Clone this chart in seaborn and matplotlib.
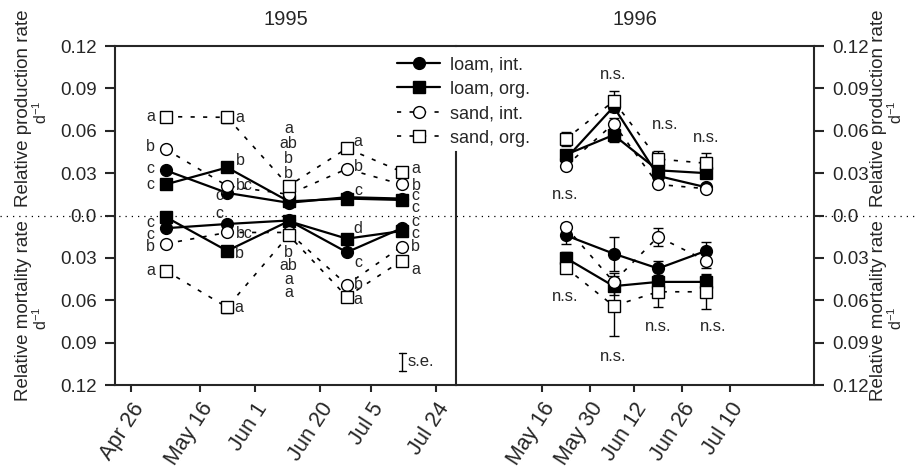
import matplotlib
matplotlib.use("Agg")
import matplotlib.pyplot as plt
import matplotlib.dates as mdates
from matplotlib.lines import Line2D
import seaborn as sns
import pandas as pd
import numpy as np

# ---- data -------------------------------------------------------------
series = ["loam, int.", "loam, org.", "sand, int.", "sand, org."]

dates_1995 = pd.to_datetime(["1995-05-06", "1995-05-24", "1995-06-11", "1995-06-28", "1995-07-14"])
dates_1996 = pd.to_datetime(["1996-05-23", "1996-06-06", "1996-06-19", "1996-07-03"])

# production rates (d-1)
prod95_loam_int = [0.032, 0.016, 0.009, 0.013, 0.012]
prod95_loam_org = [0.022, 0.034, 0.010, 0.012, 0.011]
prod95_sand_int = [0.047, 0.021, 0.015, 0.033, 0.022]
prod95_sand_org = [0.070, 0.0695, 0.021, 0.0476, 0.031]

prod96_loam_int = [0.040, 0.077, 0.028, 0.020]
prod96_loam_org = [0.043, 0.057, 0.032, 0.030]
prod96_sand_int = [0.035, 0.065, 0.022, 0.019]
prod96_sand_org = [0.054, 0.081, 0.040, 0.037]

# mortality rates (d-1), drawn downwards
mort95_loam_int = [0.009, 0.006, 0.0035, 0.026, 0.009]
mort95_loam_org = [0.001, 0.025, 0.004, 0.0164, 0.011]
mort95_sand_int = [0.020, 0.012, 0.012, 0.049, 0.022]
mort95_sand_org = [0.039, 0.065, 0.014, 0.0575, 0.032]

mort96_loam_int = [0.014, 0.027, 0.0375, 0.025]
mort96_loam_org = [0.030, 0.050, 0.047, 0.047]
mort96_sand_int = [0.008, 0.047, 0.015, 0.032]
mort96_sand_org = [0.037, 0.064, 0.054, 0.054]

# standard errors
se_prod95_sand_org = [0.002, 0.004, 0.002, 0.002, 0.002]
se_mort95_sand_org = [0.002, 0.004, 0.002, 0.002, 0.002]

se_prod96_loam_int = [0.003, 0.004, 0.003, 0.002]
se_prod96_loam_org = [0.003, 0.005, 0.003, 0.003]
se_prod96_sand_int = [0.002, 0.004, 0.002, 0.002]
se_prod96_sand_org = [0.005, 0.007, 0.006, 0.007]
se_mort96_loam_int = [0.006, 0.012, 0.005, 0.006]
se_mort96_loam_org = [0.004, 0.006, 0.005, 0.005]
se_mort96_sand_int = [0.003, 0.006, 0.0065, 0.005]
se_mort96_sand_org = [0.004, 0.021, 0.0105, 0.0125]

# significance letters 1995
let_prod95_loam_int = ["c", "c", "b", "c", "c"]
let_prod95_loam_org = ["c", "b", "b", "", "c"]
let_prod95_sand_int = ["b", "bc", "ab", "b", "b"]
let_prod95_sand_org = ["a", "a", "a", "a", "a"]
let_mort95_loam_int = ["c", "c", "b", "c", "c"]
let_mort95_loam_org = ["c", "b", "ab", "d", "c"]
let_mort95_sand_int = ["b", "bc", "a", "b", "b"]
let_mort95_sand_org = ["a", "a", "a", "a", "a"]

xticks_1995 = pd.to_datetime(["1995-04-26", "1995-05-16", "1995-06-01", "1995-06-20", "1995-07-05", "1995-07-24"])
xlabels_1995 = ["Apr 26", "May 16", "Jun 1", "Jun 20", "Jul 5", "Jul 24"]
xticks_1996 = pd.to_datetime(["1996-05-16", "1996-05-30", "1996-06-12", "1996-06-26", "1996-07-10"])
xlabels_1996 = ["May 16", "May 30", "Jun 12", "Jun 26", "Jul 10"]

yticks = [-0.12, -0.09, -0.06, -0.03, 0.0, 0.03, 0.06, 0.09, 0.12]
ylabels = ["0.12", "0.09", "0.06", "0.03", "0.0", "0.03", "0.06", "0.09", "0.12"]

# ---- styling ----------------------------------------------------------
sns.set_style("ticks")
plt.rcParams["font.family"] = ["Liberation Sans", "DejaVu Sans"]
plt.rcParams["mathtext.default"] = "regular"
plt.rcParams["axes.linewidth"] = 1.5

dash = (0, (2.5, 5))
styles = {
    "loam, int.": dict(marker="o", markerfacecolor="k", linestyle="-", linewidth=1.6),
    "loam, org.": dict(marker="s", markerfacecolor="k", linestyle="-", linewidth=1.6),
    "sand, int.": dict(marker="o", markerfacecolor="white", linestyle=dash, linewidth=1.2),
    "sand, org.": dict(marker="s", markerfacecolor="white", linestyle=dash, linewidth=1.2),
}

fig = plt.figure(figsize=(9.2, 4.72), dpi=100)
ax1 = fig.add_axes([0.125, 0.1843, 0.3707, 0.7182])
ax2 = fig.add_axes([0.4957, 0.1843, 0.3891, 0.7182])
for ax in (ax1, ax2):
    ax.set_facecolor("none")


def draw(ax, dates, values, se, name, sign):
    y = sign * np.asarray(values)
    if se is not None:
        ax.errorbar(dates, y, yerr=se, fmt="none", ecolor="k", elinewidth=1,
                    capsize=3.5, capthick=1, zorder=1)
    sns.lineplot(x=dates, y=y, ax=ax, color="k", markeredgecolor="k",
                 markersize=8.5, markeredgewidth=1, legend=False, **styles[name])


prod95 = [prod95_loam_int, prod95_loam_org, prod95_sand_int, prod95_sand_org]
mort95 = [mort95_loam_int, mort95_loam_org, mort95_sand_int, mort95_sand_org]
prod96 = [prod96_loam_int, prod96_loam_org, prod96_sand_int, prod96_sand_org]
mort96 = [mort96_loam_int, mort96_loam_org, mort96_sand_int, mort96_sand_org]
se_p95 = [None, None, None, se_prod95_sand_org]
se_m95 = [None, None, None, se_mort95_sand_org]
se_p96 = [se_prod96_loam_int, se_prod96_loam_org, se_prod96_sand_int, se_prod96_sand_org]
se_m96 = [se_mort96_loam_int, se_mort96_loam_org, se_mort96_sand_int, se_mort96_sand_org]

for i, name in enumerate(series):
    draw(ax1, dates_1995, prod95[i], se_p95[i], name, 1)
    draw(ax1, dates_1995, mort95[i], se_m95[i], name, -1)
    draw(ax2, dates_1996, prod96[i], se_p96[i], name, 1)
    draw(ax2, dates_1996, mort96[i], se_m96[i], name, -1)

# letters: offsets in pixels from the own marker (dy up); None = stacked
off_prod = [
    [(-15, 2), (-8, -3), None, (11, 7), (14, 3)],
    [(-15, 0), (13, 7), None, (11, 7), (14, -8)],
    [(-15, 3), (17, 0), None, (11, 2), (15, -1)],
    [(-15, 0), (13, 0), None, (11, 7), (14, 3)],
]
off_mort = [
    [(-15, -6), (-8, 10), None, (11, -10), (14, 7)],
    [(-15, -6), (12, -3), None, (11, 10), (14, -2)],
    [(-15, -3), (17, -1), None, (11, 0), (14, 0)],
    [(-15, 0), (12, 0), None, (11, -3), (14, -9)],
]
let_prod = [let_prod95_loam_int, let_prod95_loam_org, let_prod95_sand_int, let_prod95_sand_org]
let_mort = [let_mort95_loam_int, let_mort95_loam_org, let_mort95_sand_int, let_mort95_sand_org]

for k in range(4):
    for j, d in enumerate(dates_1995):
        xd = mdates.date2num(d)
        # production
        if off_prod[k][j] is None:
            top = max(v[j] for v in prod95)
            xy, xt = (xd, top), (0, 12 + 15 * k)
        else:
            xy, xt = (xd, prod95[k][j]), off_prod[k][j]
        ax1.annotate(let_prod[k][j], xy=xy, xytext=xt, textcoords="offset pixels",
                     ha="center", va="center", fontsize=11.5)
        # mortality
        if off_mort[k][j] is None:
            low = -max(v[j] for v in mort95)
            xy, xt = (xd, low), (0, -(17 + 13.5 * k))
        else:
            xy, xt = (xd, -mort95[k][j]), off_mort[k][j]
        ax1.annotate(let_mort[k][j], xy=xy, xytext=xt, textcoords="offset pixels",
                     ha="center", va="center", fontsize=11.5)

# n.s. marks 1996
ns_pos = [("1996-06-06", 0.100), ("1996-06-21", 0.0646), ("1996-07-03", 0.0554),
          ("1996-05-23", 0.0152), ("1996-05-23", -0.057), ("1996-06-19", -0.0787),
          ("1996-07-05", -0.0787), ("1996-06-06", -0.100)]
for d, v in ns_pos:
    ax2.text(pd.Timestamp(d), v, "n.s.", ha="center", va="center", fontsize=12)

# axes setup
ax1.set_xlim(pd.Timestamp("1995-04-21 05:00"), pd.Timestamp("1995-07-29 22:00"))
ax2.set_xlim(pd.Timestamp("1996-04-21"), pd.Timestamp("1996-08-03 12:00"))
for ax, tks, lbs in ((ax1, xticks_1995, xlabels_1995), (ax2, xticks_1996, xlabels_1996)):
    ax.set_ylim(-0.12, 0.12)
    ax.set_yticks(yticks)
    ax.set_xticks(tks)
    ax.set_xticklabels(lbs, rotation=57, ha="right", rotation_mode="anchor")
    ax.set_xlabel("")
    ax.set_ylabel("")
    ax.tick_params(axis="x", length=5, width=1.5, labelsize=15.5, pad=5)
    ax.tick_params(axis="y", length=7, width=1.5, labelsize=13.5, pad=6)

ax1.set_yticklabels(ylabels)
ax1.spines["right"].set_bounds(-0.12, 0.045)
ax2.spines["left"].set_visible(False)
ax2.yaxis.tick_right()
ax2.set_yticklabels(ylabels)

ax1.set_title("1995", fontsize=14.5, pad=15)
ax2.set_title("1996", fontsize=14.5, pad=15)

# s.e. key
x0, y0, h = 0.842, 0.068, 0.026
ax1.plot([x0, x0], [y0 - h, y0 + h], color="k", lw=1, transform=ax1.transAxes)
for yy in (y0 - h, y0 + h):
    ax1.plot([x0 - 0.01, x0 + 0.01], [yy, yy], color="k", lw=1, transform=ax1.transAxes)
ax1.text(x0 + 0.015, y0, "s.e.", ha="left", va="center", fontsize=12, transform=ax1.transAxes)

# zero line across the whole figure
yz = 0.1843 + 0.7182 / 2
fig.add_artist(Line2D([0, 1], [yz, yz], transform=fig.transFigure, color="k",
                      lw=0.9, linestyle=(0, (1, 4)), zorder=-1))

# legend
handles = [Line2D([], [], color="k", markeredgecolor="k", markersize=8.5,
                  markeredgewidth=1, **styles[n]) for n in series]
ax1.legend(handles, series, loc="upper left", bbox_to_anchor=(397 / 920, 1 - 56 / 472),
           bbox_transform=fig.transFigure, frameon=False, fontsize=13, handlelength=2.4,
           handletextpad=0.55, labelspacing=0.42, borderpad=0, borderaxespad=0)

# axis titles on both sides
for x_main, x_d in ((24 / 920, 41 / 920), (879 / 920, 896 / 920)):
    fig.text(x_main, 1 - 108 / 472, "Relative production rate", rotation=90,
             ha="center", va="center", fontsize=13.5)
    fig.text(x_d, 1 - 112 / 472, "d$^{-1}$", rotation=90, ha="center", va="center", fontsize=11.5)
    fig.text(x_main, 1 - 311 / 472, "Relative mortality rate", rotation=90,
             ha="center", va="center", fontsize=13.5)
    fig.text(x_d, 1 - 318 / 472, "d$^{-1}$", rotation=90, ha="center", va="center", fontsize=11.5)

fig.savefig("out.png", dpi=100)
